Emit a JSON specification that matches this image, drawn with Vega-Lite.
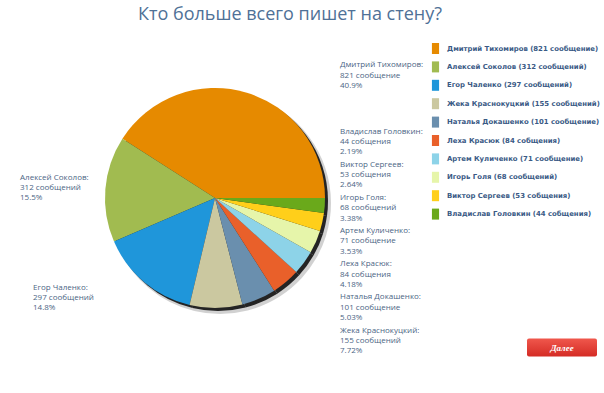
{
  "$schema": "https://vega.github.io/schema/vega-lite/v6.json",
  "width": 420,
  "height": 310,
  "padding": {"left": 5, "top": 5, "right": 0, "bottom": 0},
  "background": "white",
  "title": {
    "text": "Кто больше всего пишет на стену?",
    "font": "Open Sans",
    "fontSize": 18,
    "fontWeight": "normal",
    "color": "#4f7197",
    "anchor": "middle",
    "frame": "group",
    "dx": 75,
    "offset": 19.5
  },
  "config": {"view": {"stroke": null}},
  "data": {
    "values": [
      {"idx": 1, "name": "Дмитрий Тихомиров", "count": 821, "legend": "Дмитрий Тихомиров (821 сообщение)", "label": "Дмитрий Тихомиров:\n821 сообщение\n40.9%"},
      {"idx": 2, "name": "Алексей Соколов", "count": 312, "legend": "Алексей Соколов (312 сообщений)", "label": "Алексей Соколов:\n312 сообщений\n15.5%"},
      {"idx": 3, "name": "Егор Чаленко", "count": 297, "legend": "Егор Чаленко (297 сообщений)", "label": "Егор Чаленко:\n297 сообщений\n14.8%"},
      {"idx": 4, "name": "Жека Краснокуцкий", "count": 155, "legend": "Жека Краснокуцкий (155 сообщений)", "label": "Жека Краснокуцкий:\n155 сообщений\n7.72%"},
      {"idx": 5, "name": "Наталья Докашенко", "count": 101, "legend": "Наталья Докашенко (101 сообщение)", "label": "Наталья Докашенко:\n101 сообщение\n5.03%"},
      {"idx": 6, "name": "Леха Красюк", "count": 84, "legend": "Леха Красюк (84 собщения)", "label": "Леха Красюк:\n84 собщения\n4.18%"},
      {"idx": 7, "name": "Артем Куличенко", "count": 71, "legend": "Артем Куличенко (71 сообщение)", "label": "Артем Куличенко:\n71 сообщение\n3.53%"},
      {"idx": 8, "name": "Игорь Голя", "count": 68, "legend": "Игорь Голя (68 сообщений)", "label": "Игорь Голя:\n68 сообщений\n3.38%"},
      {"idx": 9, "name": "Виктор Сергеев", "count": 53, "legend": "Виктор Сергеев (53 собщения)", "label": "Виктор Сергеев:\n53 собщения\n2.64%"},
      {"idx": 10, "name": "Владислав Головкин", "count": 44, "legend": "Владислав Головкин (44 собщения)", "label": "Владислав Головкин:\n44 собщения\n2.19%"}
    ]
  },
  "layer": [
    {
      "mark": {"type": "arc", "outerRadius": 111, "xOffset": 5, "yOffset": 5, "fill": "#000000", "opacity": 0.18},
      "encoding": {
        "theta": {"field": "count", "type": "quantitative", "scale": {"range": [1.5708, 7.854]}},
        "order": {"field": "idx", "sort": "descending"}
      }
    },
    {
      "mark": {"type": "arc", "outerRadius": 110, "xOffset": 3, "yOffset": 3, "fill": "#111111", "opacity": 0.9},
      "encoding": {
        "theta": {"field": "count", "type": "quantitative", "scale": {"range": [1.5708, 7.854]}},
        "order": {"field": "idx", "sort": "descending"}
      }
    },
    {
      "mark": {"type": "arc", "outerRadius": 110, "opacity": 1},
      "encoding": {
        "theta": {"field": "count", "type": "quantitative", "scale": {"range": [1.5708, 7.854]}},
        "order": {"field": "idx", "sort": "descending"},
        "color": {
          "field": "legend",
          "type": "nominal",
          "scale": {
            "domain": [
              "Дмитрий Тихомиров (821 сообщение)",
              "Алексей Соколов (312 сообщений)",
              "Егор Чаленко (297 сообщений)",
              "Жека Краснокуцкий (155 сообщений)",
              "Наталья Докашенко (101 сообщение)",
              "Леха Красюк (84 собщения)",
              "Артем Куличенко (71 сообщение)",
              "Игорь Голя (68 сообщений)",
              "Виктор Сергеев (53 собщения)",
              "Владислав Головкин (44 собщения)"
            ],
            "range": ["#e68a00", "#a1bb50", "#1f96da", "#cbc8a0", "#6a8fae", "#e9602a", "#8dd3e8", "#e6f5aa", "#ffcf1a", "#6aa91b"]
          },
          "legend": {
            "title": null,
            "orient": "right",
            "offset": 5,
            "padding": 0,
            "symbolType": "M-0.65,-1H0.65V1H-0.65Z",
            "symbolSize": 121,
            "symbolStrokeWidth": 0,
            "symbolOpacity": 1,
            "labelFont": "DejaVu Sans",
            "labelFontSize": 6.9,
            "labelFontWeight": "bold",
            "labelColor": "#3a5a85",
            "labelOffset": 6,
            "labelLimit": 400,
            "rowPadding": 7.4
          }
        }
      }
    },
    {
      "transform": [{"filter": {"field": "name", "oneOf": ["Дмитрий Тихомиров", "Жека Краснокуцкий", "Наталья Докашенко", "Леха Красюк", "Артем Куличенко", "Игорь Голя", "Виктор Сергеев", "Владислав Головкин"]}}],
      "mark": {"type": "text", "align": "left", "baseline": "middle", "dx": 125, "font": "Open Sans", "fontSize": 8, "lineHeight": 10.4, "lineBreak": "\n", "color": "#4b6584"},
      "encoding": {
        "y": {
          "field": "name",
          "type": "nominal",
          "axis": null,
          "scale": {
            "type": "point",
            "padding": 0,
            "domain": ["Дмитрий Тихомиров", " ", "Владислав Головкин", "Виктор Сергеев", "Игорь Голя", "Артем Куличенко", "Леха Красюк", "Наталья Докашенко", "Жека Краснокуцкий"],
            "range": [22.2, 287.5]
          }
        },
        "text": {"field": "label"}
      }
    },
    {
      "transform": [{"filter": {"field": "name", "equal": "Алексей Соколов"}}],
      "mark": {"type": "text", "align": "left", "baseline": "middle", "dx": -195, "dy": -20.5, "font": "Open Sans", "fontSize": 8, "lineHeight": 10.4, "lineBreak": "\n", "color": "#4b6584"},
      "encoding": {"text": {"field": "label"}}
    },
    {
      "transform": [{"filter": {"field": "name", "equal": "Егор Чаленко"}}],
      "mark": {"type": "text", "align": "left", "baseline": "middle", "dx": -182, "dy": 89.5, "font": "Open Sans", "fontSize": 8, "lineHeight": 10.4, "lineBreak": "\n", "color": "#4b6584"},
      "encoding": {"text": {"field": "label"}}
    },
    {
      "data": {"values": [{"button": "Далее"}]},
      "mark": {
        "type": "point",
        "filled": true,
        "opacity": 1,
        "shape": "M-0.943,-0.257H0.943Q1,-0.257 1,-0.2V0.2Q1,0.257 0.943,0.257H-0.943Q-1,0.257 -1,0.2V-0.2Q-1,-0.257 -0.943,-0.257Z",
        "size": 4900,
        "strokeWidth": 0,
        "fill": {"gradient": "linear", "x1": 0, "y1": 0, "x2": 0, "y2": 1, "stops": [{"offset": 0, "color": "#f0574c"}, {"offset": 1, "color": "#d42c25"}]},
        "xOffset": 347,
        "yOffset": 149.5
      },
      "encoding": {}
    },
    {
      "data": {"values": [{"button": "Далее"}]},
      "mark": {"type": "text", "align": "center", "baseline": "middle", "font": "Liberation Serif", "fontStyle": "italic", "fontWeight": "bold", "fontSize": 9, "color": "#ffffff", "xOffset": 347, "yOffset": 149.5},
      "encoding": {"text": {"field": "button"}}
    }
  ]
}
